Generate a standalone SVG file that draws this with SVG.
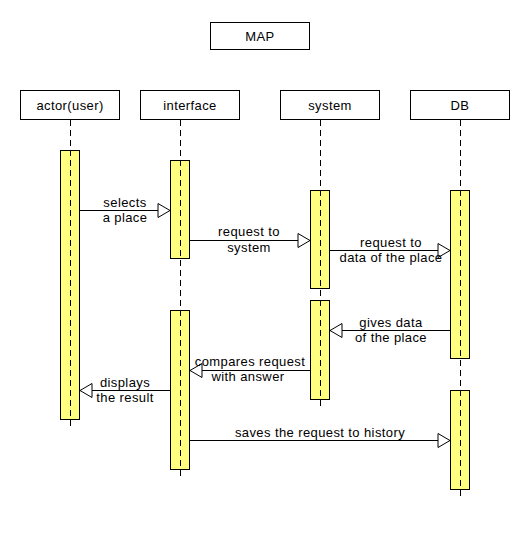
<svg xmlns="http://www.w3.org/2000/svg" width="530" height="540" viewBox="0 0 530 540">
<style>
  .box { fill: #ffffff; stroke: #000000; stroke-width: 1; }
  .act { fill: #ffff80; stroke: #000000; stroke-width: 1; }
  .life { stroke: #000000; stroke-width: 1; stroke-dasharray: 6,4; fill: none; }
  .msg { stroke: #000000; stroke-width: 1; fill: none; marker-end: url(#tri); }
  text { font-family: "Liberation Sans", Arial, sans-serif; font-size: 13px; fill: #000000; text-anchor: middle; letter-spacing: 0.4px; }
</style>
<defs>
  <marker id="tri" markerUnits="userSpaceOnUse" markerWidth="14" markerHeight="16" viewBox="-1 -1 14 16" refX="12" refY="7" orient="auto">
    <path d="M0,0 L12,7 L0,14 Z" fill="#ffffff" stroke="#000000" stroke-width="1"/>
  </marker>
</defs>
<rect width="530" height="540" fill="#ffffff"/>
<g id="title">
  <rect class="box" x="210.5" y="22.5" width="99" height="27"/>
  <text x="260" y="40.5">MAP</text>
</g>
<g id="actor">
  <rect class="box" x="20.5" y="90.5" width="99" height="29"/>
  <text x="70" y="109.5">actor(user)</text>
  <rect class="act" x="60.5" y="150.5" width="19" height="269"/>
  <line class="life" x1="70.5" y1="120" x2="70.5" y2="427"/>
</g>
<g id="interface">
  <rect class="box" x="140.5" y="90.5" width="99" height="29"/>
  <text x="190" y="109.5">interface</text>
  <rect class="act" x="170.5" y="160.5" width="19" height="98"/>
  <rect class="act" x="170.5" y="310.5" width="19" height="159"/>
  <line class="life" x1="180.5" y1="120" x2="180.5" y2="480"/>
</g>
<g id="system">
  <rect class="box" x="280.5" y="90.5" width="99" height="29"/>
  <text x="330" y="109.5">system</text>
  <rect class="act" x="310.5" y="190.5" width="19" height="98"/>
  <rect class="act" x="310.5" y="300.5" width="19" height="99"/>
  <line class="life" x1="320.5" y1="120" x2="320.5" y2="410"/>
</g>
<g id="DB">
  <rect class="box" x="410.5" y="90.5" width="99" height="29"/>
  <text x="460" y="109.5">DB</text>
  <rect class="act" x="450.5" y="190.5" width="19" height="168"/>
  <rect class="act" x="450.5" y="390.5" width="19" height="99"/>
  <line class="life" x1="460.5" y1="120" x2="460.5" y2="500"/>
</g>
<g id="connectors">
  <line class="msg" x1="80" y1="210.5" x2="170" y2="210.5"/>
  <text x="125" y="206.5">selects</text>
  <text x="125" y="221.5">a place</text>

  <line class="msg" x1="190" y1="240.5" x2="310" y2="240.5"/>
  <text x="249" y="235.5">request to</text>
  <text x="249" y="251.5">system</text>

  <line class="msg" x1="330" y1="250.5" x2="450" y2="250.5"/>
  <text x="391" y="246.5">request to</text>
  <text x="391" y="261.5">data of the place</text>

  <line class="msg" x1="450" y1="330.5" x2="330" y2="330.5"/>
  <text x="391" y="326.5">gives data</text>
  <text x="391" y="341.5">of the place</text>

  <line class="msg" x1="310" y1="370.5" x2="190" y2="370.5"/>
  <text x="250" y="365.5">compares request</text>
  <text x="248" y="380.5">with answer</text>

  <line class="msg" x1="170" y1="390.5" x2="80" y2="390.5"/>
  <text x="125" y="386.5">displays</text>
  <text x="125" y="401.5">the result</text>

  <line class="msg" x1="190" y1="440.5" x2="450" y2="440.5"/>
  <text x="320" y="436.5">saves the request to history</text>
</g>
</svg>
